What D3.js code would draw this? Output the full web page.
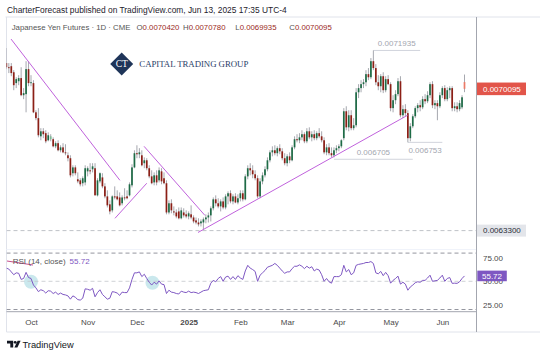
<!DOCTYPE html>
<html><head><meta charset="utf-8">
<script src="https://cdn.jsdelivr.net/npm/d3@7"></script>
<style>
html,body{margin:0;padding:0;background:#fff;}
svg{display:block;font-family:"Liberation Sans",Arial,sans-serif;}
</style>
</head><body>
<svg id="c" width="540" height="356"></svg>
<script>
// ---------------- DATA ----------------
const monthTicks = ["Oct","Nov","Dec","2025","Feb","Mar","Apr","May","Jun"];
const monthTickBars = [10,33,53,74,95,114,135,156,177];
const priceTicks = [0.0071875, 0.0068750, 0.0065625, 0.0062500];
const rsiTicks = [75, 50, 25];
const rsiBands = [80, 20];
const rsiMid = 50;
const supportLevel = 0.0063300;
const lastClose = 0.0070095;
const lastRsi = 55.72;

// [open, high, low, close] per daily bar (Sep 17 2024 .. Jun 13 2025)
const ohlc = [
[0.007133,0.007205,0.007104,0.007113],[0.007113,0.007133,0.007085,0.007109],[0.007118,0.007133,0.007070,0.007085],
[0.007089,0.007099,0.007003,0.007027],[0.007037,0.007065,0.007013,0.007056],[0.007046,0.007075,0.007027,0.007061],
[0.007061,0.007113,0.006974,0.006979],[0.006979,0.007013,0.006960,0.006989],[0.006984,0.007142,0.006897,0.007104],
[0.007104,0.007142,0.007022,0.007037],[0.007037,0.007075,0.007022,0.007041],[0.007037,0.007051,0.006893,0.006897],
[0.006897,0.006907,0.006859,0.006869],[0.006869,0.006917,0.006777,0.006787],[0.006782,0.006821,0.006763,0.006806],
[0.006806,0.006821,0.006773,0.006792],[0.006797,0.006811,0.006749,0.006758],[0.006763,0.006801,0.006758,0.006787],
[0.006768,0.006792,0.006758,0.006782],[0.006768,0.006777,0.006729,0.006734],[0.006734,0.006758,0.006725,0.006749],
[0.006749,0.006763,0.006710,0.006715],[0.006715,0.006739,0.006705,0.006729],[0.006729,0.006749,0.006701,0.006705],
[0.006705,0.006744,0.006691,0.006701],[0.006691,0.006705,0.006662,0.006677],[0.006677,0.006691,0.006585,0.006595],
[0.006605,0.006643,0.006590,0.006633],[0.006633,0.006643,0.006595,0.006605],[0.006576,0.006609,0.006557,0.006566],
[0.006571,0.006581,0.006542,0.006552],[0.006557,0.006590,0.006542,0.006581],[0.006561,0.006643,0.006547,0.006629],
[0.006614,0.006638,0.006590,0.006629],[0.006619,0.006653,0.006600,0.006614],[0.006624,0.006653,0.006609,0.006638],
[0.006629,0.006653,0.006499,0.006499],[0.006499,0.006581,0.006494,0.006571],[0.006566,0.006609,0.006557,0.006605],
[0.006585,0.006605,0.006533,0.006542],[0.006542,0.006557,0.006485,0.006494],[0.006494,0.006523,0.006441,0.006451],
[0.006456,0.006475,0.006408,0.006422],[0.006427,0.006499,0.006417,0.006494],[0.006494,0.006542,0.006480,0.006489],
[0.006494,0.006523,0.006475,0.006480],[0.006489,0.006513,0.006446,0.006451],[0.006461,0.006499,0.006451,0.006489],
[0.006489,0.006533,0.006475,0.006485],[0.006494,0.006523,0.006480,0.006485],[0.006499,0.006561,0.006494,0.006552],
[0.006547,0.006648,0.006537,0.006633],[0.006633,0.006715,0.006629,0.006701],[0.006701,0.006739,0.006677,0.006696],
[0.006696,0.006725,0.006677,0.006705],[0.006691,0.006715,0.006638,0.006643],[0.006653,0.006681,0.006629,0.006667],
[0.006667,0.006677,0.006619,0.006629],[0.006629,0.006643,0.006581,0.006590],[0.006590,0.006619,0.006552,0.006557],
[0.006561,0.006609,0.006547,0.006595],[0.006595,0.006619,0.006547,0.006561],[0.006571,0.006633,0.006561,0.006619],
[0.006614,0.006629,0.006552,0.006566],[0.006581,0.006609,0.006552,0.006557],[0.006557,0.006571,0.006408,0.006417],
[0.006417,0.006475,0.006408,0.006461],[0.006461,0.006480,0.006413,0.006427],[0.006422,0.006446,0.006403,0.006417],
[0.006417,0.006432,0.006389,0.006398],[0.006422,0.006441,0.006384,0.006389],[0.006389,0.006441,0.006384,0.006427],
[0.006417,0.006437,0.006393,0.006403],[0.006408,0.006427,0.006389,0.006398],[0.006398,0.006422,0.006384,0.006413],
[0.006408,0.006451,0.006384,0.006393],[0.006393,0.006403,0.006365,0.006374],[0.006379,0.006393,0.006360,0.006369],
[0.006369,0.006389,0.006350,0.006360],[0.006365,0.006384,0.006350,0.006374],[0.006369,0.006393,0.006336,0.006384],
[0.006384,0.006408,0.006365,0.006393],[0.006393,0.006417,0.006369,0.006403],[0.006403,0.006446,0.006374,0.006437],
[0.006437,0.006489,0.006427,0.006480],[0.006480,0.006499,0.006446,0.006461],[0.006461,0.006485,0.006437,0.006446],
[0.006446,0.006480,0.006422,0.006470],[0.006470,0.006489,0.006432,0.006441],[0.006441,0.006504,0.006432,0.006494],
[0.006494,0.006518,0.006456,0.006509],[0.006509,0.006523,0.006461,0.006470],[0.006470,0.006504,0.006456,0.006494],
[0.006494,0.006509,0.006461,0.006465],[0.006465,0.006504,0.006456,0.006485],[0.006485,0.006523,0.006470,0.006509],
[0.006509,0.006523,0.006470,0.006480],[0.006480,0.006600,0.006475,0.006590],[0.006590,0.006643,0.006576,0.006629],
[0.006629,0.006653,0.006595,0.006619],[0.006619,0.006643,0.006581,0.006600],[0.006600,0.006619,0.006571,0.006581],
[0.006581,0.006595,0.006485,0.006494],[0.006494,0.006581,0.006485,0.006566],[0.006566,0.006609,0.006552,0.006595],
[0.006595,0.006638,0.006585,0.006624],[0.006624,0.006681,0.006614,0.006667],[0.006667,0.006715,0.006657,0.006705],
[0.006705,0.006734,0.006686,0.006715],[0.006715,0.006739,0.006691,0.006701],[0.006701,0.006734,0.006686,0.006725],
[0.006725,0.006744,0.006696,0.006710],[0.006710,0.006725,0.006667,0.006677],[0.006677,0.006701,0.006643,0.006653],
[0.006653,0.006696,0.006638,0.006686],[0.006686,0.006705,0.006653,0.006667],[0.006667,0.006739,0.006662,0.006729],
[0.006729,0.006782,0.006720,0.006768],[0.006768,0.006792,0.006753,0.006763],[0.006763,0.006797,0.006749,0.006777],
[0.006777,0.006811,0.006763,0.006792],[0.006792,0.006801,0.006749,0.006758],[0.006758,0.006821,0.006749,0.006806],
[0.006806,0.006825,0.006768,0.006777],[0.006777,0.006806,0.006758,0.006792],[0.006792,0.006811,0.006763,0.006773],
[0.006773,0.006806,0.006763,0.006797],[0.006797,0.006821,0.006773,0.006782],[0.006782,0.006806,0.006753,0.006763],
[0.006763,0.006777,0.006696,0.006705],[0.006705,0.006744,0.006691,0.006729],[0.006729,0.006749,0.006691,0.006701],
[0.006701,0.006729,0.006681,0.006691],[0.006691,0.006729,0.006681,0.006715],[0.006715,0.006739,0.006701,0.006725],
[0.006725,0.006744,0.006710,0.006734],[0.006734,0.006768,0.006725,0.006763],[0.006773,0.006917,0.006763,0.006902],
[0.006902,0.006926,0.006811,0.006825],[0.006825,0.006907,0.006806,0.006883],[0.006883,0.006907,0.006811,0.006821],
[0.006821,0.006869,0.006811,0.006835],[0.006835,0.007013,0.006825,0.006993],[0.006993,0.007032,0.006965,0.007013],
[0.007013,0.007051,0.006993,0.007032],[0.007032,0.007056,0.007013,0.007041],[0.007041,0.007099,0.007022,0.007080],
[0.007080,0.007109,0.007051,0.007065],[0.007065,0.007157,0.007056,0.007142],[0.007142,0.0071935,0.007099,0.007109],
[0.007109,0.007128,0.007027,0.007041],[0.007041,0.007075,0.007003,0.007022],[0.007022,0.007080,0.006993,0.007070],
[0.007070,0.007089,0.006989,0.007003],[0.007003,0.007070,0.006993,0.007056],[0.007056,0.007075,0.007027,0.007032],
[0.007032,0.007041,0.006902,0.006917],[0.006917,0.006979,0.006897,0.006955],[0.006955,0.007003,0.006936,0.006984],
[0.006984,0.007061,0.006974,0.007046],[0.007046,0.007070,0.006873,0.006883],[0.006883,0.006931,0.006869,0.006912],
[0.006912,0.006936,0.006878,0.006893],[0.006893,0.006907,0.006753,0.006773],[0.006773,0.006845,0.006758,0.006830],
[0.006830,0.006888,0.006821,0.006878],[0.006878,0.006926,0.006869,0.006917],[0.006917,0.006941,0.006897,0.006931],
[0.006931,0.006955,0.006902,0.006921],[0.006921,0.006974,0.006912,0.006960],[0.006960,0.006984,0.006936,0.006950],
[0.006950,0.006998,0.006941,0.006979],[0.006979,0.007041,0.006965,0.007032],[0.007032,0.007046,0.006917,0.006931],
[0.006931,0.006955,0.006912,0.006941],[0.006941,0.006955,0.006859,0.006926],[0.006926,0.006993,0.006917,0.006979],
[0.006979,0.007022,0.006965,0.007013],[0.007013,0.007027,0.006950,0.006960],[0.006960,0.007017,0.006950,0.007003],
[0.007003,0.007022,0.006965,0.007013],[0.007013,0.007022,0.006902,0.006917],[0.006917,0.006945,0.006902,0.006926],
[0.006926,0.006945,0.006897,0.006912],[0.006912,0.006955,0.006902,0.006941],[0.006921,0.006979,0.006912,0.006969],
[0.0070420,0.0070780,0.0069935,0.0070095]
];

// RSI(14, close) per bar
const rsi = [
64,63,60,57,59,58.5,52,53,59.5,54,
53,46,43,39,41,40,37.5,40,39.5,37,
38.5,36,37.5,36,35.5,34.5,31,34.5,33,30.5,
30,32,42,41.5,40.5,42.5,33.5,38,41,36,
33.5,31,32,39,38.5,37.5,35,38.5,38,38,
43,52,59,59,60,55,57.5,53,49,46,
49,47,50.5,47,46.5,37,40.5,38.5,38,37,
36.5,39.5,38.5,38,39.5,38,38.5,38,37,38.5,
40,40.5,41,48,51,49.5,53,55,50,54.5,
55.5,52,55,52,56,53.5,52,61,67,64,
62.5,60.5,50,56.5,59,61.5,65,66,67,69,
67,64,61,58.5,60,60,63.5,66,66,67.5,
66,63.5,66,64,65.5,61,63,62,57,50,
53,49.5,48,55,55,55,57,67,60,62.5,
57,59,67,68,68.5,69,70,70,71,69,
59,58,60.5,56,59.5,56,48,51,53,55.5,
47,49,47,40.5,44,46,48.5,49.5,49,51,
51,53.5,56.5,50,50.5,51,53.5,56.5,50,53,
54,47.8,48,47.8,49.5,53,55.72
];

// drawn trend lines: [bar, price] -> [bar, price]
const trendLines = [
  [[1.9, 0.007248], [46.1, 0.006571]],
  [[44.1, 0.006389], [57.0, 0.006557]],
  [[55.9, 0.006734], [80.6, 0.006403]],
  [[77.8, 0.006321], [162.9, 0.006883]]
];
// price markers
const markLabels = ["0.0071935", "0.006705", "0.006753"];
const markPrices = [0.0071935, 0.006672, 0.006753];
const markFrom = [149, 133, 163];
const markTo = [168, 165, 177];
const markAbove = [true, true, false];
// RSI highlight circles [bar, rsi]
const rsiCircles = [[10, 49.6], [59.3, 48.5]];

// ---------------- DRAW ----------------
const svg = d3.select("#c");
const paneL = 6.5, paneR = 476.5, priceTop = 17, priceBot = 249.5, rsiBot = 311.7, frameBot = 332;
const FS = 8;

const x = d3.scaleLinear().domain([0, 186]).range([6.37, 464.5]);
const y = d3.scaleLinear().domain([0.00625, 0.0071875]).range([247.3, 51.7]);
const yr = d3.scaleLinear().domain([25, 75]).range([304.8, 257.8]);

svg.append("rect").attr("width", 540).attr("height", 356).attr("fill", "#fff");

const defs = svg.append("defs");
defs.append("clipPath").attr("id", "cpPrice").append("rect")
  .attr("x", paneL).attr("y", priceTop).attr("width", paneR - paneL).attr("height", priceBot - priceTop);
defs.append("clipPath").attr("id", "cpRsi").append("rect")
  .attr("x", paneL).attr("y", priceBot).attr("width", paneR - paneL).attr("height", rsiBot - priceBot);
defs.append("clipPath").attr("id", "cpAxis").append("rect")
  .attr("x", paneR).attr("y", priceTop).attr("width", 540 - paneR).attr("height", priceBot - priceTop);

// header
svg.append("text").attr("x", 7).attr("y", 12.5).attr("font-size", 8.4).attr("fill", "#1e222d")
  .text("CharterForecast published on TradingView.com, Jun 13, 2025 17:35 UTC-4");

// frame
const frameCol = "#e0e3eb";
svg.append("line").attr("x1", paneL - 1).attr("x2", 540).attr("y1", priceTop).attr("y2", priceTop).attr("stroke", frameCol);
svg.append("line").attr("x1", paneL).attr("x2", paneL).attr("y1", priceTop).attr("y2", frameBot).attr("stroke", frameCol);
svg.append("line").attr("x1", paneL).attr("x2", 540).attr("y1", frameBot).attr("y2", frameBot).attr("stroke", frameCol);
svg.append("line").attr("x1", paneL).attr("x2", paneR).attr("y1", priceBot).attr("y2", priceBot).attr("stroke", "#f0f3fa");

// legend
const leg = svg.append("text").attr("y", 29.5).attr("font-size", 7.8);
leg.append("tspan").attr("x", 11.7).attr("fill", "#555").text("Japanese Yen Futures · 1D · CME");
const last = ohlc[ohlc.length - 1];
const legKeys = ["O", "H", "L", "C"], legX = [136.5, 183, 235.3, 289.3];
legKeys.forEach((k, i) => {
  leg.append("tspan").attr("x", legX[i]).attr("fill", "#555").text(k);
  leg.append("tspan").attr("fill", "#9b2a22").text(d3.format(".7f")(last[i]));
});

// logo
const logo = svg.append("g");
const lc = [121.7, 64], lr = 11.5;
logo.append("path").attr("d", `M${lc[0]},${lc[1]-lr} L${lc[0]+lr},${lc[1]} L${lc[0]},${lc[1]+lr} L${lc[0]-lr},${lc[1]} Z`).attr("fill", "#1f3559");
logo.append("text").attr("x", lc[0]).attr("y", lc[1] + 3.3).attr("text-anchor", "middle")
  .attr("font-family", "'Liberation Serif','DejaVu Serif',serif").attr("font-size", 9.5).attr("fill", "#fff").text("CT");
logo.append("text").attr("x", 139.3).attr("y", 67.2).attr("font-family", "'Liberation Serif','DejaVu Serif',serif")
  .attr("font-size", 8.8).attr("fill", "#2b3d68").attr("textLength", 109).attr("lengthAdjust", "spacing")
  .text("CAPITAL TRADING GROUP");

// price pane
const pp = svg.append("g").attr("clip-path", "url(#cpPrice)");
pp.append("line").attr("x1", paneL).attr("x2", paneR).attr("y1", y(supportLevel)).attr("y2", y(supportLevel))
  .attr("stroke", "#b8bbc2").attr("stroke-dasharray", "4,3").attr("stroke-width", 0.9);

// markers
markLabels.forEach((lab, i) => {
  const yy = y(markPrices[i]);
  pp.append("line").attr("x1", x(markFrom[i])).attr("x2", x(markTo[i])).attr("y1", yy).attr("y2", yy)
    .attr("stroke", "#d1d4dc").attr("stroke-width", 1);
  pp.append("text").attr("x", (x(markFrom[i]) + x(markTo[i])) / 2).attr("y", markAbove[i] ? yy - 4.5 : yy + 10.5)
    .attr("text-anchor", "middle").attr("font-size", FS).attr("fill", "#a3a6af").text(lab);
});

// candles
const bw = 1.7;
const candles = pp.append("g").selectAll("g").data(ohlc).join("g");
candles.append("line")
  .attr("x1", (d, i) => x(i)).attr("x2", (d, i) => x(i))
  .attr("y1", d => y(d[1])).attr("y2", d => y(d[2]))
  .attr("stroke", "#8f929a").attr("stroke-width", 0.8);
candles.append("rect")
  .attr("x", (d, i) => x(i) - bw / 2).attr("width", bw)
  .attr("y", d => y(Math.max(d[0], d[3])))
  .attr("height", d => Math.max(0.9, Math.abs(y(d[0]) - y(d[3]))))
  .attr("fill", (d, i) => {
    const prev = i > 0 ? ohlc[i - 1][3] : d[0];
    if (d[3] >= d[0]) return d[3] >= prev ? "#1e6b46" : "#7dbb95";
    return d[3] <= prev ? "#8c1f16" : "#ec7a67";
  });

// trend lines
pp.append("g").selectAll("line").data(trendLines).join("line")
  .attr("x1", d => x(d[0][0])).attr("y1", d => y(d[0][1]))
  .attr("x2", d => x(d[1][0])).attr("y2", d => y(d[1][1]))
  .attr("stroke", "#c062dc").attr("stroke-width", 1);

// price axis
const ya = svg.append("g").attr("transform", `translate(${paneR},0)`).attr("clip-path", "url(#cpAxis)")
  .call(d3.axisRight(y).tickValues(priceTicks).tickFormat(d3.format(".7f")).tickSize(0).tickPadding(6.5));
ya.select(".domain").remove();
ya.selectAll("text").attr("font-size", FS).attr("fill", "#4a4a4a").attr("font-family", null);

// support label
const sy = y(supportLevel);
svg.append("rect").attr("x", paneR + 0.5).attr("y", sy - 6).attr("width", 49).attr("height", 12).attr("fill", "#e3e5ea");
svg.append("text").attr("x", paneR + 6.5).attr("y", sy + 2.8).attr("font-size", FS).attr("fill", "#2a2e39")
  .text(d3.format(".7f")(supportLevel));

// last price label
const ly = y(lastClose);
svg.append("rect").attr("x", paneR + 0.5).attr("y", ly - 6.3).attr("width", 49).attr("height", 12.6).attr("fill", "#e2554a");
svg.append("text").attr("x", paneR + 6.5).attr("y", ly + 2.8).attr("font-size", FS).attr("fill", "#fff")
  .text(d3.format(".7f")(lastClose));

// RSI pane
const rp = svg.append("g").attr("clip-path", "url(#cpRsi)");
rp.selectAll("circle").data(rsiCircles).join("circle")
  .attr("cx", d => x(d[0])).attr("cy", d => yr(d[1])).attr("r", 7)
  .attr("fill", "#9fd6de").attr("fill-opacity", 0.55);
rp.selectAll("line.band").data(rsiBands).join("line").attr("class", "band")
  .attr("x1", paneL).attr("x2", paneR).attr("y1", d => yr(d)).attr("y2", d => yr(d))
  .attr("stroke", "#787b86").attr("stroke-dasharray", "4,3").attr("stroke-width", 0.8);
rp.append("line").attr("x1", paneL).attr("x2", paneR).attr("y1", yr(rsiMid)).attr("y2", yr(rsiMid))
  .attr("stroke", "#c3c6cc").attr("stroke-dasharray", "4,3").attr("stroke-width", 0.8);
rp.append("path").datum(rsi)
  .attr("d", d3.line().x((d, i) => x(i)).y(d => yr(d)))
  .attr("fill", "none").attr("stroke", "#7e57c2").attr("stroke-width", 1);
rp.append("line").attr("x1", 7).attr("y1", 261).attr("x2", 33).attr("y2", 265)
  .attr("stroke", "#c0387f").attr("stroke-width", 0.9);

const rl = svg.append("text").attr("x", 12.7).attr("y", 263.5).attr("font-size", FS);
rl.append("tspan").attr("fill", "#555").text("RSI (14, close)");
rl.append("tspan").attr("dx", 4).attr("fill", "#7e57c2").text(d3.format(".2f")(lastRsi));

const ra = svg.append("g").attr("transform", `translate(${paneR},0)`)
  .call(d3.axisRight(yr).tickValues(rsiTicks).tickFormat(d3.format(".2f")).tickSize(0).tickPadding(6.5));
ra.select(".domain").remove();
ra.selectAll("text").attr("font-size", FS).attr("fill", "#4a4a4a").attr("font-family", null);

const ry = yr(lastRsi);
svg.append("rect").attr("x", paneR + 0.8).attr("y", ry - 5.3).attr("width", 29.5).attr("height", 10.6).attr("fill", "#7e57c2");
svg.append("text").attr("x", paneR + 15.5).attr("y", ry + 2.8).attr("text-anchor", "middle").attr("font-size", FS)
  .attr("fill", "#fff").text(d3.format(".2f")(lastRsi));

// separators
svg.append("line").attr("x1", paneR).attr("x2", paneR).attr("y1", priceTop).attr("y2", frameBot).attr("stroke", "#a3a6af");
svg.append("line").attr("x1", paneL).attr("x2", paneR).attr("y1", rsiBot).attr("y2", rsiBot).attr("stroke", "#a3a6af");

// time axis
const xa = svg.append("g").attr("transform", `translate(0,${rsiBot})`)
  .call(d3.axisBottom(x).tickValues(monthTickBars).tickFormat((d, i) => monthTicks[i]).tickSize(0).tickPadding(7.6));
xa.select(".domain").remove();
xa.selectAll("text").attr("font-size", FS).attr("fill", "#4a4a4a").attr("font-family", null)
  .attr("font-weight", (d, i) => monthTicks[i] === "2025" ? 700 : 400);

// footer TradingView logo
const tv = svg.append("g").attr("fill", "#131722");
tv.append("path").attr("d", "M7,340.8 H13.2 V347.6 H10.3 V343.6 H7 Z");
tv.append("circle").attr("cx", 15.2).attr("cy", 342.3).attr("r", 1.4);
tv.append("path").attr("d", "M17.6,340.8 H20.6 L17.4,347.6 H14.4 Z");
svg.append("text").attr("x", 22.5).attr("y", 348).attr("font-size", 9.3).attr("fill", "#131722").text("TradingView");
</script>
</body></html>
